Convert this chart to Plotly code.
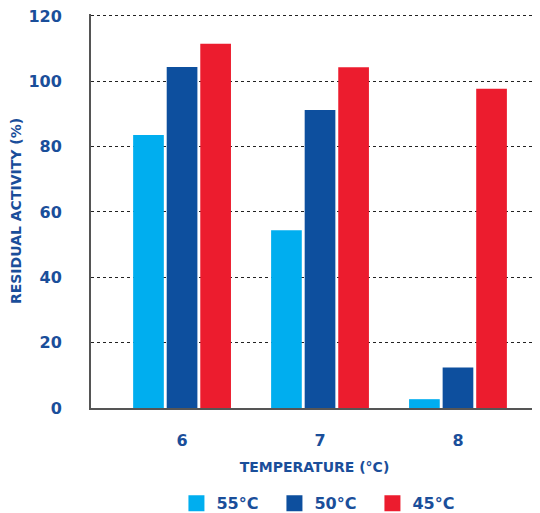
import plotly.graph_objects as go

categories = ["6", "7", "8"]
series_names = ["55°C", "50°C", "45°C"]
v55 = [83.6, 54.4, 2.7]
v50 = [104.4, 91.2, 12.4]
v45 = [111.5, 104.3, 97.7]
y_ticks = [0, 20, 40, 60, 80, 100, 120]

colors = ["#00AEEF", "#0D4F9E", "#EC1C2E"]
txt = "#1A4E9A"
font_family = "'DejaVu Sans', sans-serif"

fig = go.Figure()
for name, vals, c in zip(series_names, [v55, v50, v45], colors):
    fig.add_trace(go.Bar(x=categories, y=vals, name=name, showlegend=False,
                         marker=dict(color=c, line=dict(width=0))))
# legend entries with larger square swatches
for name, c in zip(series_names, colors):
    fig.add_trace(go.Scatter(x=[None], y=[None], mode="markers", name=name,
                             marker=dict(symbol="square", size=18, color=c)))

# page body has an 8px margin, so the figure is sized to fit the window
fig.update_layout(
    width=532, height=505,
    margin=dict(l=83, r=2, t=6, b=105, autoexpand=False),
    paper_bgcolor="white", plot_bgcolor="white",
    barmode="group", bargap=0.27, bargroupgap=0.086,
    font=dict(family=font_family, color=txt, weight=700),
    showlegend=True,
    legend=dict(orientation="h", x=0.52, xanchor="center", y=-0.242, yanchor="middle",
                font=dict(size=16, color=txt, weight=700),
                entrywidth=53, entrywidthmode="pixels",
                traceorder="normal", itemsizing="trace"),
)
fig.update_xaxes(
    type="category", range=[-0.66, 2.58], automargin=False,
    showline=True, linecolor="#555555", linewidth=2,
    showgrid=False, ticks="", tickfont=dict(size=16, color=txt, weight=700),
    ticklabelstandoff=17,
    title=dict(text="TEMPERATURE (°C)", font=dict(size=14, color=txt, weight=700), standoff=13),
)
fig.update_yaxes(
    range=[0, 120.6], tickvals=y_ticks, automargin=False,
    showline=True, linecolor="#555555", linewidth=2,
    showgrid=True, gridcolor="#222222", griddash="dot", gridwidth=1,
    zeroline=False, ticks="", tickfont=dict(size=16, color=txt, weight=700),
    ticklabelstandoff=24, ticklabeloverflow="allow",
    title=dict(text="RESIDUAL ACTIVITY (%)", font=dict(size=14, color=txt, weight=700), standoff=4),
)

fig.write_html("out.html")
